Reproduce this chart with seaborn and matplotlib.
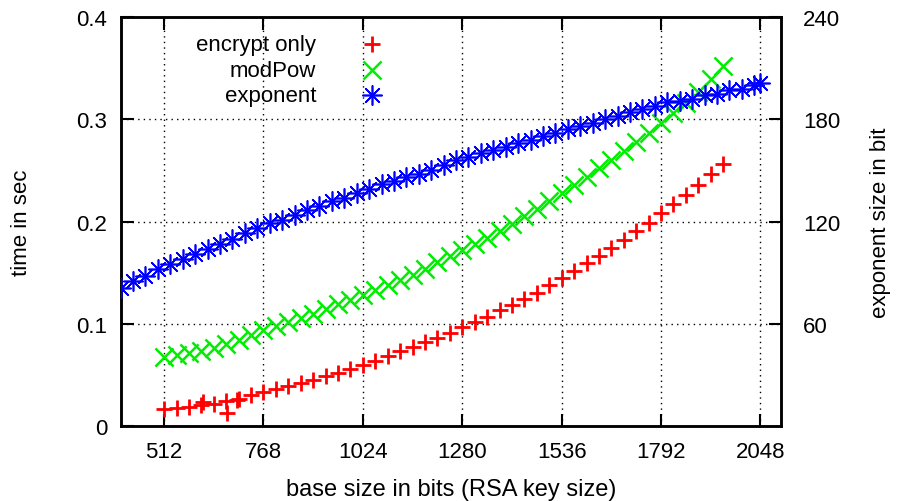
import numpy as np
import pandas as pd
import seaborn as sns
import matplotlib.pyplot as plt

key_bits = [512, 544, 576, 608, 640, 672, 704, 736, 768, 800, 832, 864, 896, 928, 960, 992,
            1024, 1056, 1088, 1120, 1152, 1184, 1216, 1248, 1280, 1312, 1344, 1376, 1408, 1440,
            1472, 1504, 1536, 1568, 1600, 1632, 1664, 1696, 1728, 1760, 1792, 1824, 1856, 1888,
            1920, 1952]
encrypt_sec = [0.017, 0.018, 0.019, 0.021, 0.022, 0.024, 0.026, 0.030, 0.033, 0.036, 0.039, 0.042,
               0.045, 0.049, 0.052, 0.056, 0.060, 0.064, 0.068, 0.073, 0.077, 0.082, 0.086, 0.091,
               0.097, 0.102, 0.107, 0.113, 0.118, 0.124, 0.130, 0.138, 0.145, 0.152, 0.159, 0.166,
               0.174, 0.182, 0.191, 0.199, 0.208, 0.217, 0.226, 0.236, 0.246, 0.256]
modpow_sec = [0.067, 0.069, 0.071, 0.073, 0.076, 0.080, 0.084, 0.089, 0.094, 0.098, 0.102, 0.106,
              0.110, 0.114, 0.119, 0.123, 0.128, 0.133, 0.138, 0.143, 0.148, 0.154, 0.160, 0.166,
              0.172, 0.178, 0.184, 0.191, 0.198, 0.205, 0.212, 0.220, 0.228, 0.236, 0.244, 0.252,
              0.260, 0.269, 0.278, 0.287, 0.296, 0.306, 0.316, 0.327, 0.339, 0.352]

# a few stray encrypt-only samples
outlier_bits = [612, 674, 700]
outlier_sec = [0.023, 0.013, 0.025]

exp_key_bits = [400, 432, 464, 496, 528, 560, 592, 624, 656, 688, 720, 752, 784, 816, 848, 880,
                912, 944, 976, 1008, 1040, 1072, 1104, 1136, 1168, 1200, 1232, 1264, 1296, 1328,
                1360, 1392, 1424, 1456, 1488, 1520, 1552, 1584, 1616, 1648, 1680, 1712, 1744, 1776,
                1808, 1840, 1872, 1904, 1936, 1968, 2000, 2032, 2048]
exponent_bits = [81, 85, 88, 92, 95, 98, 101, 104, 107, 110, 113, 116, 119, 121, 124, 127,
                 129, 132, 134, 137, 139, 142, 144, 146, 148, 150, 153, 156, 158, 160,
                 162, 164, 166, 168, 170, 172, 174, 176, 178, 180, 182, 184, 186, 188,
                 190, 191, 192, 194, 195, 197, 198, 200, 201]

x_ticks = [512, 768, 1024, 1280, 1536, 1792, 2048]

sns.set_style("white")
plt.rcParams['font.family'] = ['Liberation Sans', 'DejaVu Sans']
plt.rcParams['font.size'] = 16
plt.rcParams['text.color'] = 'black'
plt.rcParams['axes.labelcolor'] = 'black'
plt.rcParams['xtick.color'] = 'black'
plt.rcParams['ytick.color'] = 'black'

fig = plt.figure(figsize=(8.97, 5.02), dpi=100)
ax = fig.add_axes([0.1349, 0.1494, 0.7358, 0.8147])
ax2 = ax.twinx()

enc = pd.DataFrame({'bits': key_bits + outlier_bits, 'sec': encrypt_sec + outlier_sec})
mod = pd.DataFrame({'bits': key_bits, 'sec': modpow_sec})
exp = pd.DataFrame({'bits': exp_key_bits, 'exp': exponent_bits})

sns.scatterplot(data=enc, x='bits', y='sec', ax=ax, marker='+', color='#ff0000',
                s=140, linewidth=2.0, label='encrypt only', zorder=3)
sns.scatterplot(data=mod, x='bits', y='sec', ax=ax, marker='x', color='#00ee00',
                s=170, linewidth=1.8, label='modPow', zorder=3)
sns.scatterplot(data=exp, x='bits', y='exp', ax=ax2, marker=(8, 2, 0), color='#0000ff',
                s=190, linewidth=1.2, label='exponent', zorder=3)

ax.set_xlim(401, 2101)
ax.set_ylim(0, 0.4)
ax2.set_ylim(0, 240)
ax.set_xticks(x_ticks)
ax.set_yticks([0, 0.1, 0.2, 0.3, 0.4])
ax.set_yticklabels(['0', '0.1', '0.2', '0.3', '0.4'])
ax2.set_yticks([60, 120, 180, 240])

ax.grid(True, color='black', linestyle=(0, (1, 3)), linewidth=1.0)
ax.tick_params(axis='both', direction='in', length=9, width=1.5, pad=11,
               top=True, bottom=True, left=True, right=False, labelsize=16)
ax.tick_params(axis='y', pad=10)
ax2.tick_params(axis='y', direction='in', length=9, width=1.5, pad=16, labelsize=16)
for a in (ax, ax2):
    for sp in a.spines.values():
        sp.set_linewidth(1.8)
        sp.set_color('black')

ax.set_xlabel('base size in bits (RSA key size)', fontsize=17)
ax.set_ylabel('time in sec', fontsize=16)
ax2.set_ylabel('exponent size in bit', fontsize=16)
ax.xaxis.set_label_coords(0.5, -0.154)
ax.xaxis.label.set_verticalalignment('center')
ax.yaxis.set_label_coords(-0.135, 0.5)
ax2.yaxis.set_label_coords(1.135, 0.5)

h1, l1 = ax.get_legend_handles_labels()
h2, l2 = ax2.get_legend_handles_labels()
ax.get_legend().remove()
ax2.legend(h1 + h2, l1 + l2, loc='upper right', bbox_to_anchor=(0.427, 0.98),
           markerfirst=False, frameon=False, fontsize=16, handletextpad=1.5,
           labelspacing=0.2, borderaxespad=0.0)

fig.savefig('out.png', dpi=100)
